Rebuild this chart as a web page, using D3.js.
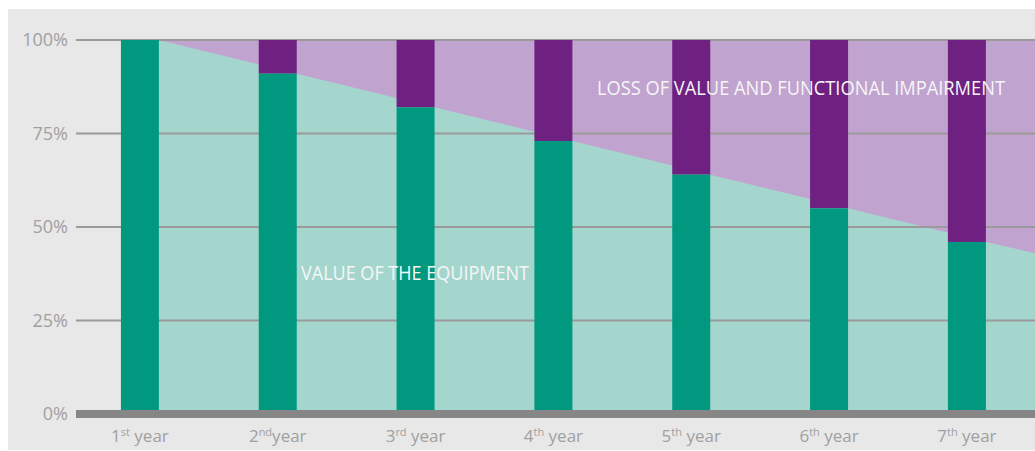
<!DOCTYPE html>
<html><head><meta charset="utf-8">
<script src="https://cdn.jsdelivr.net/npm/d3@7"></script>
<style>
html,body{margin:0;padding:0;background:#fff;}
svg{display:block;}
text{font-family:"Open Sans",sans-serif;}
</style></head>
<body><svg id="c" width="1035" height="451"></svg>
<script>
// ---- data ----
const years = ["1", "2", "3", "4", "5", "6", "7"];
const yearSup = ["st", "nd", "rd", "th", "th", "th", "th"];
const yearWord = [" year", "year", " year", " year", " year", " year", " year"];
const equipmentValue = [100, 91, 82, 73, 64, 55, 46];   // % value at each year
const trendEndValue = 43;                                 // value line at right edge
const yTicks = [0, 25, 50, 75, 100];
const tickLabels = ["0%", "25%", "50%", "75%", "100%"];
const labelLoss = "LOSS OF VALUE AND FUNCTIONAL IMPAIRMENT";
const labelValue = "VALUE OF THE EQUIPMENT";

const W = 1035, H = 451;
const svg = d3.select("#c");

const x = d3.scaleBand().domain(d3.range(years.length)).range([71, 1035.8])
  .paddingInner(0.7243).paddingOuter(0.3621);
const y = d3.scaleLinear().domain([0, 100]).range([414, 40]);
const right = 1035, left = 76;

// panel
svg.append("rect").attr("x", 8).attr("y", 9).attr("width", W - 8).attr("height", 441).attr("fill", "#e8e8e8");

// purple region
const x0 = x(0) + x.bandwidth();
svg.append("rect").attr("x", x0).attr("y", y(100)).attr("width", right - x0).attr("height", y(0) - y(100))
  .attr("fill", "#c1a3cf");

// teal value area through top-right corners of bars
const pts = equipmentValue.map((v, i) => [x(i) + x.bandwidth(), v]);
pts.push([right, trendEndValue]);
const area = d3.area().x(d => d[0]).y0(y(0)).y1(d => y(d[1]));
svg.append("path").datum(pts).attr("d", area).attr("fill", "#a5d6ce");

// gridlines
svg.append("g").selectAll("line").data(yTicks.filter(t => t > 0)).join("line")
  .attr("x1", left).attr("x2", right).attr("y1", d => y(d)).attr("y2", d => y(d))
  .attr("stroke", "#9a9a9a").attr("stroke-width", 2);

// bars
const g = svg.append("g");
g.selectAll(".loss").data(equipmentValue).join("rect")
  .attr("x", (d, i) => x(i)).attr("width", x.bandwidth())
  .attr("y", y(100)).attr("height", d => y(d) - y(100)).attr("fill", "#6f2182");
g.selectAll(".val").data(equipmentValue).join("rect")
  .attr("x", (d, i) => x(i)).attr("width", x.bandwidth())
  .attr("y", d => y(d)).attr("height", d => y(0) - y(d)).attr("fill", "#009980");

// baseline
svg.append("line").attr("x1", left).attr("x2", right).attr("y1", y(0)).attr("y2", y(0))
  .attr("stroke", "#868686").attr("stroke-width", 8);

// y labels
svg.append("g").selectAll("text").data(yTicks).join("text")
  .attr("x", 68).attr("y", d => y(d)).attr("dy", "0.35em").attr("text-anchor", "end")
  .attr("font-size", 18).attr("font-weight", 400).attr("fill", "#a0a0a0")
  .text((d, i) => tickLabels[i]);

// x labels
const xl = svg.append("g").selectAll("text").data(years).join("text")
  .attr("x", (d, i) => x(i) + x.bandwidth() / 2).attr("y", 442).attr("text-anchor", "middle")
  .attr("font-size", 17).attr("font-weight", 400).attr("fill", "#a0a0a0");
xl.append("tspan").text(d => d);
xl.append("tspan").attr("font-size", 11).attr("dy", -6).text((d, i) => yearSup[i]);
xl.append("tspan").attr("dy", 6).text((d, i) => yearWord[i]);

// area labels
svg.append("text").attr("x", 597).attr("y", 95).attr("font-size", 20).attr("font-weight", 400)
  .attr("fill", "#f6f6f6").attr("textLength", 408).attr("lengthAdjust", "spacingAndGlyphs").text(labelLoss);
svg.append("text").attr("x", 301).attr("y", 280).attr("font-size", 20).attr("font-weight", 400)
  .attr("fill", "#f6f6f6").attr("textLength", 228).attr("lengthAdjust", "spacingAndGlyphs").text(labelValue);
</script></body></html>
